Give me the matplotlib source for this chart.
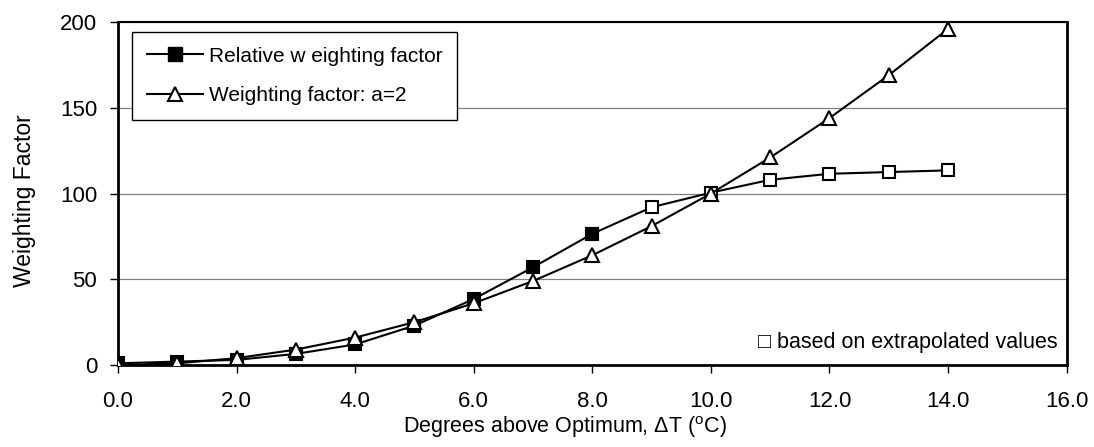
import matplotlib
matplotlib.use("Agg")
from matplotlib import pyplot as plt

plt.rcParams['font.family'] = ['Liberation Sans', 'DejaVu Sans']
plt.rcParams['mathtext.fontset'] = 'custom'
plt.rcParams['mathtext.rm'] = 'Liberation Sans'

# dati
gradi = [0, 1, 2, 3, 4, 5, 6, 7, 8, 9, 10, 11, 12, 13, 14]
relativo = [1, 2, 3, 6.5, 12, 23, 38.5, 57, 76.5, 92, 100.5, 108, 111.5, 112.5, 113.5]
n_misurati = 9  # i primi 9 punti sono misurati, gli altri estrapolati
fattore_a2 = [0, 1, 4, 9, 16, 25, 36, 49, 64, 81, 100, 121, 144, 169, 196]

fig = plt.figure(figsize=(10.94, 4.47), dpi=100)
ax = fig.add_axes([0.1079, 0.1834, 0.8671, 0.7674])

fs = 15
ax.plot(gradi, relativo, color='black', lw=1.5, zorder=3)
ax.plot(gradi[n_misurati - 1:], relativo[n_misurati - 1:], ls='none', marker='s', ms=9,
        mfc='white', mec='black', mew=1.5, zorder=4)
ax.plot(gradi[:n_misurati], relativo[:n_misurati], ls='none', marker='s', ms=9,
        mfc='black', mec='black', mew=1.5, zorder=4)
ax.plot(gradi, fattore_a2, color='black', lw=1.5, marker='^', ms=10,
        mfc='white', mec='black', mew=1.5, zorder=5)

# voci della legenda
h1, = ax.plot([], [], color='black', lw=1.5, marker='s', ms=10, mfc='black', mec='black')
h2, = ax.plot([], [], color='black', lw=1.5, marker='^', ms=10, mfc='white', mec='black', mew=1.5)
leg = ax.legend([h1, h2], ['Relative w eighting factor', 'Weighting factor: a=2'],
                loc='upper left', bbox_to_anchor=(0.0148, 0.971), borderaxespad=0,
                fontsize=fs, fancybox=False, shadow=False, framealpha=1,
                edgecolor='black', borderpad=0.7, labelspacing=1.0,
                handlelength=2.7, handletextpad=0.3)
leg.get_frame().set_linewidth(1.0)

ax.text(0.99, 0.065, '\u25a1 based on extrapolated values', transform=ax.transAxes,
        ha='right', va='center', fontsize=15.5)

ax.set_xlim(0, 16)
ax.set_ylim(0, 200)
ax.set_xticks(range(0, 17, 2))
ax.set_xticklabels(['%.1f' % v for v in range(0, 17, 2)])
ax.set_yticks([0, 50, 100, 150, 200])
ax.yaxis.grid(True, color='#808080', lw=0.9)
ax.set_axisbelow(True)
ax.tick_params(axis='x', direction='out', length=6, width=1, pad=13, labelsize=16)
ax.tick_params(axis='y', direction='out', length=6, width=1, pad=9, labelsize=16)
for s in ['left', 'bottom', 'right']:
    ax.spines[s].set_linewidth(2)
ax.spines['top'].set_linewidth(1.5)

ax.set_xlabel('Degrees above Optimum, $\\Delta$T ($^{\\mathrm{o}}$C)', fontsize=15.5,
              x=0.471, labelpad=1)
ax.set_ylabel('Weighting Factor', fontsize=16.5, y=0.478, labelpad=17)

plt.savefig('out.png', dpi=100)
